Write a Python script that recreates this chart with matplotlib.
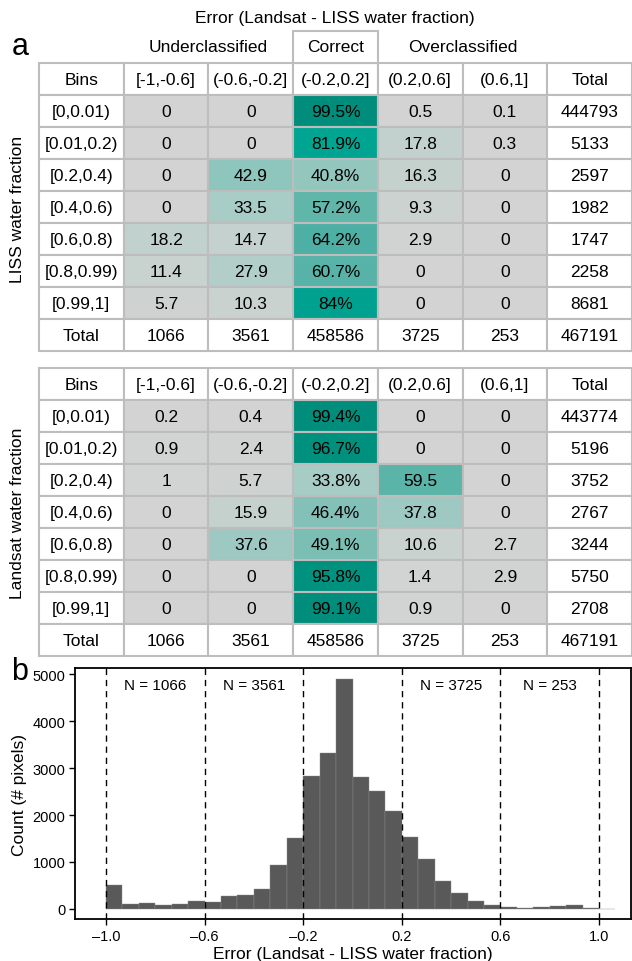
import matplotlib
matplotlib.use('Agg')
import matplotlib.pyplot as plt
from matplotlib.colors import LinearSegmentedColormap
from matplotlib.patches import Rectangle
import numpy as np

plt.rcParams['font.family'] = ['Liberation Sans', 'DejaVu Sans']

# ---- data ----
col_labels = ['Bins', '[-1,-0.6]', '(-0.6,-0.2]', '(-0.2,0.2]', '(0.2,0.6]', '(0.6,1]', 'Total']
row_bins = ['[0,0.01)', '[0.01,0.2)', '[0.2,0.4)', '[0.4,0.6)', '[0.6,0.8)', '[0.8,0.99)', '[0.99,1]']

liss_pct = [[0, 0, 99.5, 0.5, 0.1],
            [0, 0, 81.9, 17.8, 0.3],
            [0, 42.9, 40.8, 16.3, 0],
            [0, 33.5, 57.2, 9.3, 0],
            [18.2, 14.7, 64.2, 2.9, 0],
            [11.4, 27.9, 60.7, 0, 0],
            [5.7, 10.3, 84, 0, 0]]
liss_total = [444793, 5133, 2597, 1982, 1747, 2258, 8681]

landsat_pct = [[0.2, 0.4, 99.4, 0, 0],
               [0.9, 2.4, 96.7, 0, 0],
               [1, 5.7, 33.8, 59.5, 0],
               [0, 15.9, 46.4, 37.8, 0],
               [0, 37.6, 49.1, 10.6, 2.7],
               [0, 0, 95.8, 1.4, 2.9],
               [0, 0, 99.1, 0.9, 0]]
landsat_total = [443774, 5196, 3752, 2767, 3244, 5750, 2708]

col_totals = [1066, 3561, 458586, 3725, 253, 467191]

hist_counts = [507, 100, 121, 86, 107, 179, 157, 286, 300, 429, 943, 1500,
               2821, 3329, 4900, 2814, 2514, 2093, 1536, 1057, 586, 336,
               179, 86, 43, 29, 36, 64, 93, 21, 7]
hist_start = -1.0
hist_width = 1 / 15
breaks = [-1.0, -0.6, -0.2, 0.2, 0.6, 1.0]
n_labels = ['N = 1066', 'N = 3561', '', 'N = 3725', 'N = 253']

# ---- styling ----
W, H = 632, 962
fig = plt.figure(figsize=(W / 100, H / 100), dpi=100)

cmap = LinearSegmentedColormap.from_list('gt', [
    (0.0, '#d3d3d3'), (0.17, '#c3d1cd'), (0.34, '#a7ccc6'), (0.42, '#90c6bd'),
    (0.58, '#5fb5a9'), (0.65, '#4cb0a3'), (0.82, '#00a592'), (1.0, '#008c7a')])
line_col = '#bdbdbd'
fs = 12.5


def px_axes(x0, y0, x1, y1):
    return fig.add_axes([x0 / W, 1 - y1 / H, (x1 - x0) / W, (y1 - y0) / H])


def cell(ax, x, y, text, color):
    ax.add_patch(Rectangle((x, y), 1, 1, facecolor=color, edgecolor=line_col,
                           lw=1.5, clip_on=False))
    ax.text(x + 0.5, y + 0.52, text, ha='center', va='center', fontsize=fs)


def draw_table(ax, pct, totals):
    ax.set_xlim(0, 7)
    ax.set_ylim(9, 0)
    ax.axis('off')
    for j, lab in enumerate(col_labels):
        cell(ax, j, 0, lab, 'white')
    for i in range(len(row_bins)):
        cell(ax, 0, i + 1, row_bins[i], 'white')
        for k in range(5):
            v = pct[i][k]
            txt = f'{v:g}' + ('%' if k == 2 else '')
            cell(ax, k + 1, i + 1, txt, cmap(v / 100))
        cell(ax, 6, i + 1, str(totals[i]), 'white')
    cell(ax, 0, 8, 'Total', 'white')
    for k, t in enumerate(col_totals):
        cell(ax, k + 1, 8, str(t), 'white')


ax1 = px_axes(39, 64, 632, 352)
draw_table(ax1, liss_pct, liss_total)
ax2 = px_axes(39, 369, 632, 657)
draw_table(ax2, landsat_pct, landsat_total)

# header above table a
ax1.add_patch(Rectangle((3, -1), 1, 1, facecolor='white', edgecolor=line_col,
                        lw=1.5, clip_on=False))
ax1.text(3.5, -0.5, 'Correct', ha='center', va='center', fontsize=fs)
ax1.text(2, -0.5, 'Underclassified', ha='center', va='center', fontsize=fs)
ax1.text(5, -0.5, 'Overclassified', ha='center', va='center', fontsize=fs)
fig.text(335 / W, 1 - 18 / H, 'Error (Landsat - LISS water fraction)',
         ha='center', va='center', fontsize=fs)
fig.text(20 / W, 1 - 47 / H, 'a', ha='center', va='center', fontsize=22)
fig.text(20 / W, 1 - 672 / H, 'b', ha='center', va='center', fontsize=22)
fig.text(18 / W, 1 - 209 / H, 'LISS water fraction', rotation=90,
         ha='center', va='center', fontsize=12.5)
fig.text(18 / W, 1 - 513 / H, 'Landsat water fraction', rotation=90,
         ha='center', va='center', fontsize=12.5)

# ---- histogram ----
ax3 = px_axes(75, 669, 631, 920)
edges = hist_start + hist_width * np.arange(len(hist_counts))
ax3.bar(edges, hist_counts, width=hist_width, align='edge', color='#595959',
        edgecolor='#8c8c8c', linewidth=0.3)
for b in breaks:
    ax3.axvline(b, color='black', ls=(0, (4.5, 3.5)), lw=1)
for i, lab in enumerate(n_labels):
    if lab:
        ax3.text((breaks[i] + breaks[i + 1]) / 2, 4770, lab, ha='center',
                 va='center', fontsize=11)
ax3.set_xlim(-1.126, 1.13)
ax3.set_ylim(-213, 5128)
ax3.set_xticks(breaks)
ax3.set_xticklabels([f'{b:.1f}'.replace('-', '\u2013') for b in breaks])
ax3.set_yticks([0, 1000, 2000, 3000, 4000, 5000])
ax3.tick_params(direction='out', length=4, labelsize=10.5, width=1, pad=3)
for s in ax3.spines.values():
    s.set_linewidth(1.3)
ax3.set_xlabel('Error (Landsat - LISS water fraction)', fontsize=12.5, labelpad=2)
ax3.set_ylabel('Count (# pixels)', fontsize=12.5, labelpad=4)

fig.savefig('out.png', dpi=100)
